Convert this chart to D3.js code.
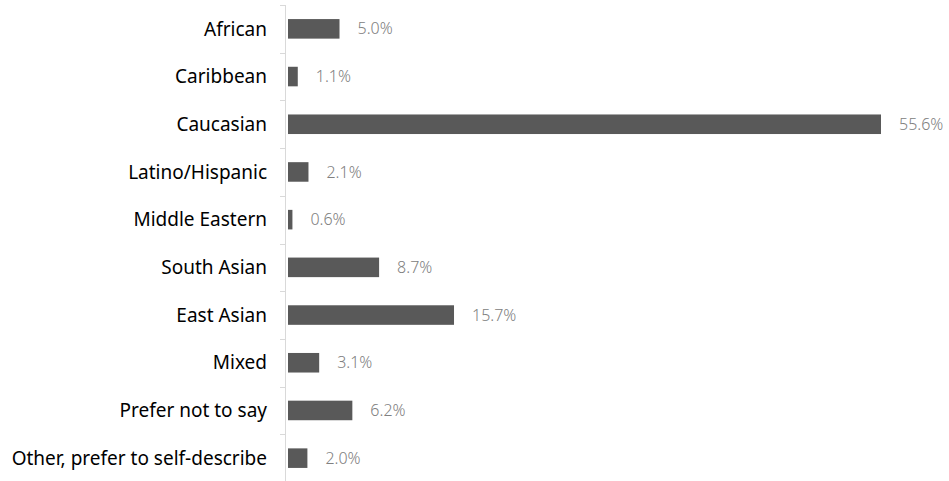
<!DOCTYPE html>
<html>
<head>
<meta charset="utf-8">
<script src="https://cdn.jsdelivr.net/npm/d3@7"></script>
<style>
  html, body { margin: 0; padding: 0; background: #fff; }
  svg { display: block; }
</style>
</head>
<body>
<svg id="chart" width="949" height="481"></svg>
<script>
// Respondent ethnicity breakdown (share of respondents, %)
const categories = [
  "African", "Caribbean", "Caucasian", "Latino/Hispanic", "Middle Eastern",
  "South Asian", "East Asian", "Mixed", "Prefer not to say",
  "Other, prefer to self-describe"
];
const shares = [5.0, 1.1, 55.6, 2.1, 0.6, 8.7, 15.7, 3.1, 6.2, 2.0];

const width = 949, height = 481;
const margin = { top: 5, right: 68, bottom: -1, left: 286 };

const svg = d3.select("#chart");

const x = d3.scaleLinear()
  .domain([0, d3.max(shares)])
  .range([margin.left, width - margin.right]);

const y = d3.scaleBand()
  .domain(categories)
  .range([margin.top, height - margin.bottom])
  .paddingInner(0.59)
  .paddingOuter(0.295);

// boundary scale for the axis tick marks between categories
const yb = d3.scaleBand()
  .domain(categories)
  .range([margin.top, height - margin.bottom]);

const data = categories.map((c, i) => ({ c, v: shares[i] }));

// bars
svg.append("g")
  .selectAll("rect")
  .data(data)
  .join("rect")
  .attr("x", x(0) + 2)
  .attr("y", d => y(d.c))
  .attr("width", d => Math.max(1.5, x(d.v) - x(0) - 2))
  .attr("height", y.bandwidth())
  .attr("fill", "#595959");

// category axis line and boundary ticks
const axis = svg.append("g").attr("stroke", "#d9d9d9").attr("stroke-width", 1);
axis.append("line")
  .attr("x1", x(0) - 0.5).attr("x2", x(0) - 0.5)
  .attr("y1", margin.top).attr("y2", height);
axis.selectAll("line.tick")
  .data(categories)
  .join("line")
  .attr("class", "tick")
  .attr("x1", x(0) - 6).attr("x2", x(0) - 0.5)
  .attr("y1", d => Math.round(yb(d)) + 0.5)
  .attr("y2", d => Math.round(yb(d)) + 0.5);

// category labels
svg.append("g")
  .selectAll("text")
  .data(data)
  .join("text")
  .attr("x", x(0) - 19)
  .attr("y", d => y(d.c) + y.bandwidth() / 2)
  .attr("dy", "0.35em")
  .attr("text-anchor", "end")
  .attr("font-family", "'Noto Sans', sans-serif")
  .attr("font-size", 19)
  .attr("fill", "#000")
  .text(d => d.c);

// value labels
svg.append("g")
  .selectAll("text")
  .data(data)
  .join("text")
  .attr("x", d => x(d.v) + 18)
  .attr("y", d => y(d.c) + y.bandwidth() / 2)
  .attr("dy", "0.35em")
  .attr("font-family", "'Noto Sans', sans-serif")
  .attr("font-weight", 300)
  .attr("font-size", 16)
  .attr("fill", "#808080")
  .text(d => d.v.toFixed(1) + "%");
</script>
</body>
</html>
